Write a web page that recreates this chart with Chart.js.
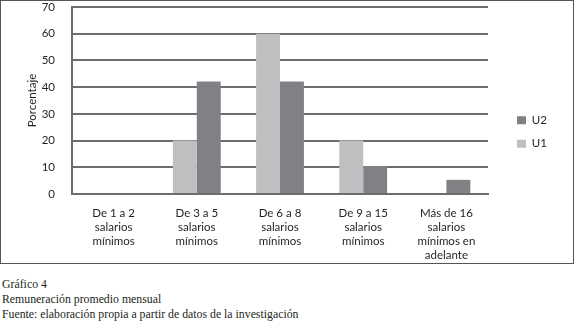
<!DOCTYPE html>
<html>
<head>
<meta charset="utf-8">
<script src="https://cdn.jsdelivr.net/npm/chart.js@4.4.1/dist/chart.umd.min.js"></script>
<style>
  body { margin: 0; background: #fff; }
  .frame { position: absolute; left: 0; top: 0; width: 572px; height: 262px; border: 1px solid #555; }
  .frame canvas { display: block; }
  .caption { position: absolute; left: 2px; top: 277px; font-family: "Liberation Serif", serif; font-size: 11.8px; line-height: 15px; color: #231f20; }
</style>
</head>
<body>
<div class="frame"><canvas id="chart" width="572" height="262"></canvas></div>
<div class="caption">
  <div>Gráfico 4</div>
  <div>Remuneración promedio mensual</div>
  <div>Fuente: elaboración propia a partir de datos de la investigación</div>
</div>
<script>
const categories = [
  ["De 1 a 2", "salarios", "mínimos"],
  ["De 3 a 5", "salarios", "mínimos"],
  ["De 6 a 8", "salarios", "mínimos"],
  ["De 9 a 15", "salarios", "mínimos"],
  ["Más de 16", "salarios", "mínimos en", "adelante"],
];
const u1 = [0, 20, 60, 20, 0];
const u2 = [0, 42.1, 42.1, 10.5, 5.3];
const yTicks = [0, 10, 20, 30, 40, 50, 60, 70];

const textColor = "#231f20";
const gridColor = "#6d6d6d";
const labelFont = { family: "Lato", size: 11.5 };

// fixed legend width, items pushed right, away from the plot
const legendBox = {
  id: "legendBox",
  beforeInit(chart) {
    const legend = chart.legend;
    const fit = legend.fit;
    legend.fit = function () {
      fit.call(this);
      this.width = 85;
    };
  },
  afterLayout(chart) {
    chart.legend.left += 17;
  },
};

new Chart(document.getElementById("chart"), {
  type: "bar",
  data: {
    labels: categories,
    datasets: [
      { label: "U1", data: u1, backgroundColor: "#bebfc1" },
      { label: "U2", data: u2, backgroundColor: "#808184" },
    ],
  },
  options: {
    responsive: false,
    animation: false,
    categoryPercentage: 0.575,
    barPercentage: 1,
    layout: { padding: 0 },
    scales: {
      x: {
        afterFit(scale) { scale.height = 69; },
        grid: { display: false, drawTicks: false },
        border: { display: true, color: gridColor, width: 2 },
        ticks: {
          color: textColor,
          padding: 12,
          maxRotation: 0,
          font: { ...labelFont, lineHeight: 1.22 },
        },
      },
      y: {
        min: 0,
        max: 70,
        afterFit(scale) {
          scale.width = 71;
          scale.paddingTop = 6;
          scale.paddingBottom = 0;
        },
        afterBuildTicks(scale) { scale.ticks = yTicks.map((v) => ({ value: v })); },
        grid: { color: gridColor, lineWidth: 2, drawTicks: false },
        border: { display: true, color: gridColor, width: 2 },
        ticks: {
          color: textColor,
          padding: 17,
          font: labelFont,
        },
        title: {
          display: true,
          text: "Porcentaje",
          color: textColor,
          font: { ...labelFont, lineHeight: 1.2 },
          padding: { top: 24, bottom: 0 },
        },
      },
    },
    plugins: {
      legend: {
        position: "right",
        reverse: true,
        labels: {
          color: textColor,
          boxWidth: 9,
          boxHeight: 8,
          padding: 12,
          font: labelFont,
        },
      },
      tooltip: { enabled: false },
    },
  },
  plugins: [legendBox],
});
</script>
</body>
</html>
